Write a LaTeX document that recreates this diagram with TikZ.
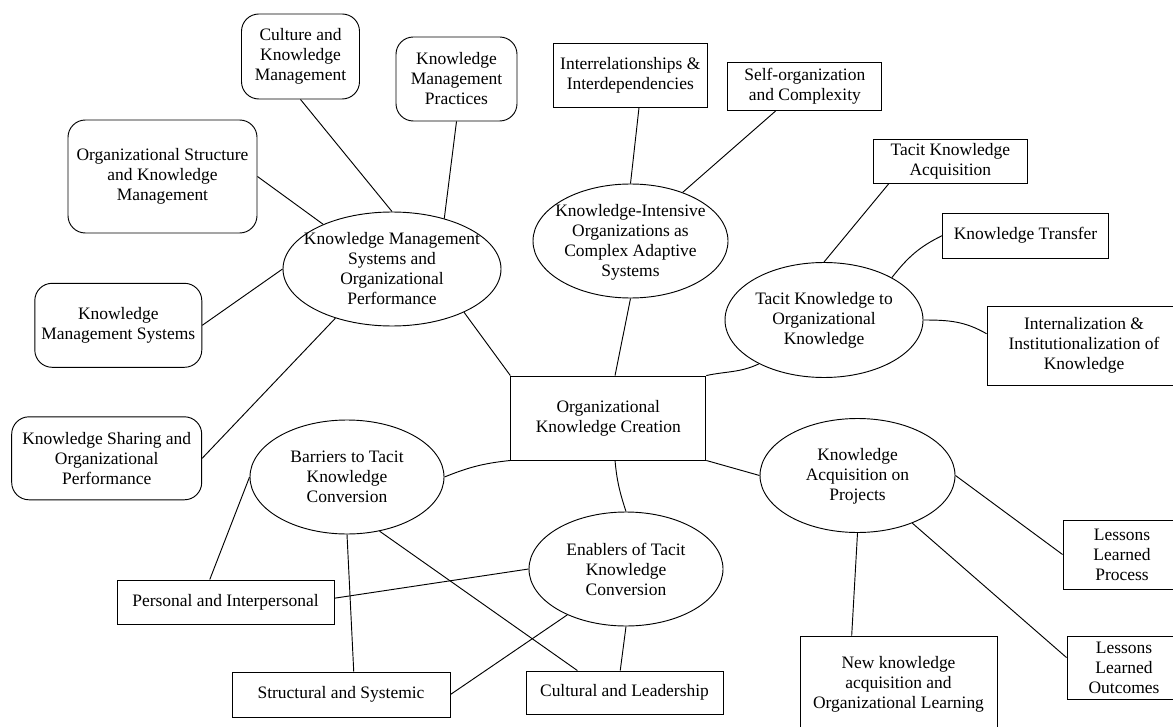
\documentclass[tikz,border=0pt]{standalone}
\usepackage{fontspec}
\setmainfont{Liberation Serif}
\usetikzlibrary{shapes.geometric}
\begin{document}
\begin{tikzpicture}[x=0.75pt, y=-0.75pt,
  every node/.style={font=\fontsize{13.1}{15}\selectfont, align=center, inner sep=2pt},
  ln/.style={draw=black, line width=0.7pt},
  box/.style 2 args={draw=black, line width=0.7pt, rectangle, minimum width=#1*0.75pt, minimum height=#2*0.75pt},
  rbox/.style 2 args={box={#1}{#2}, rounded corners=13pt},
  ell/.style 2 args={draw=black, line width=0.7pt, ellipse, inner sep=0pt, minimum width=#1*0.75pt, minimum height=#2*0.75pt},
  lbl/.style={inner sep=0pt}
]
\path[use as bounding box, fill=white] (0,0) rectangle (1173,727);

% rounded boxes (left cluster)
\node[rbox={118}{85}] (cul) at (300.5,56.5) {Culture and\\Knowledge\\Management};
\node[rbox={121}{84}] (kmp) at (456.5,79) {Knowledge\\Management\\Practices};
\node[rbox={189}{113}] (osk) at (162.5,176.5) {Organizational Structure\\and Knowledge\\Management};
\node[rbox={167}{84}] (kms) at (118.3,325.3) {Knowledge\\Management Systems};
\node[rbox={190}{83}] (ksp) at (106.7,458.3) {Knowledge Sharing and\\Organizational\\Performance};

% rectangles
\node[box={154}{64}] (irl) at (630.3,75.2) {Interrelationships \&\\Interdependencies};
\node[box={154}{48}] (sfo) at (804.8,86.5) {Self-organization\\and Complexity};
\node[box={154}{44}] (tka) at (950.3,161.5) {Tacit Knowledge\\Acquisition};
\node[box={166}{45}] (ktr) at (1025.5,235.7) {Knowledge Transfer};
\node[box={194}{79}] (iik) at (1084,345.7) {Internalization \&\\Institutionalization of\\Knowledge};
\node[box={195}{84}] (okc) at (608.3,418) {Organizational\\Knowledge Creation};
\node[box={217}{44}] (per) at (225.5,602) {Personal and Interpersonal};
\node[box={218}{45}] (str) at (341,694.5) {Structural and Systemic};
\node[box={197}{43}] (cul2) at (624.5,692.5) {Cultural and Leadership};
\node[box={197}{96}] (nka) at (898.5,684) {New knowledge\\acquisition and\\Organizational Learning};
\node[box={118}{69}] (llp) at (1122,554.5) {Lessons\\Learned\\Process};
\node[box={114}{63}] (llo) at (1124,667.7) {Lessons\\Learned\\Outcomes};

% ellipses
\node[ell={218}{114}] (kmsop) at (392,269) {};
\node[ell={195}{114}] (kio) at (630.5,241) {};
\node[ell={198}{115}] (tko) at (824,320) {};
\node[ell={195}{114}] (kap) at (857.5,475.5) {};
\node[ell={194}{114}] (bar) at (347,477) {};
\node[ell={194}{114}] (ena) at (626,569) {};

\node[lbl] (kmsop-t) at (392,268.5) {Knowledge Management\\Systems and\\Organizational\\Performance};
\node[lbl] (kio-t) at (630.5,242) {Knowledge-Intensive\\Organizations as\\Complex Adaptive\\Systems};
\node[lbl] (tko-t) at (824,320) {Tacit Knowledge to\\Organizational\\Knowledge};
\node[lbl] (kap-t) at (857.5,476) {Knowledge\\Acquisition on\\Projects};
\node[lbl] (bar-t) at (347,477) {Barriers to Tacit\\Knowledge\\Conversion};
\node[lbl] (ena-t) at (626,569) {Enablers of Tacit\\Knowledge\\Conversion};

% connectors
\draw[ln] (cul.south) -- (kmsop.north);
\draw[ln] (kmp.south) -- (kmsop.44);
\draw[ln] (osk.east) -- (kmsop.147.9);
\draw[ln] (kms.east) -- (kmsop.west);
\draw[ln] (ksp.east) -- (kmsop.221.8);
\draw[ln] (kmsop.-31.5) -- (okc.north west);
\draw[ln] (irl.-75.9) -- (kio.north);
\draw[ln] (sfo.220) -- (kio.43.3);
\draw[ln] (kio.south) -- (okc.81.9);
\draw[ln] (tka.200.2) -- (tko.north);
\draw[ln] (ktr.west) to[out=206, in=52] (tko.32.6);
\draw[ln] (tko.east) to[out=0, in=150] (iik.173.4);
\draw[ln] (okc.north east) to[out=12, in=205] (tko.214.5);
\draw[ln] (bar.east) to[out=22, in=186] (okc.south west);
\draw[ln] (okc.-81.2) to[out=-85, in=108] (ena.north);
\draw[ln] (okc.south east) -- (kap.west);
\draw[ln] (bar.west) -- (per.125.2);
\draw[ln] (bar.south) -- (str.61.9);
\draw[ln] (bar.-59.4) -- (cul2.155.2);
\draw[ln] (ena.west) -- (per.2.1);
\draw[ln] (ena.218.4) -- (str.east);
\draw[ln] (ena.south) -- (cul2.101.8);
\draw[ln] (kap.south) -- (nka.134.7);
\draw[ln] (kap.east) -- (llp.west);
\draw[ln] (kap.-41.6) -- (llo.170.3);
\end{tikzpicture}
\end{document}
